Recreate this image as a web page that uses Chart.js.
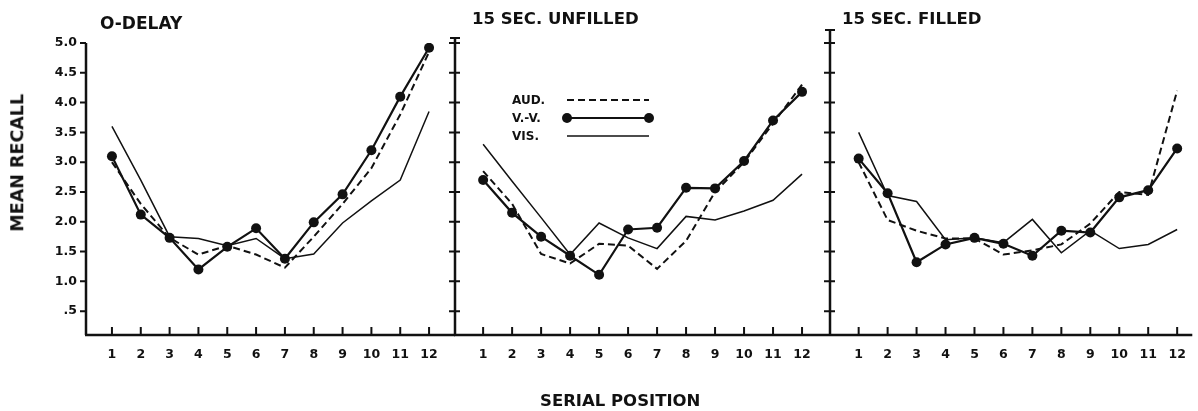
<!DOCTYPE html>
<html>
<head>
<meta charset="utf-8">
<script src="https://cdn.jsdelivr.net/npm/chart.js@4.4.1/dist/chart.umd.min.js"></script>
<style>
  body { margin: 0; background: #fff; width: 1198px; height: 411px; position: relative; overflow: hidden;
         font-family: "DejaVu Sans", sans-serif; font-weight: bold; color: #111; }
  canvas { position: absolute; left: 0; top: 0; }
  .lbl { position: absolute; white-space: nowrap; font-size: 16.5px; line-height: 1; }
</style>
</head>
<body>
<canvas id="c1" width="1198" height="411"></canvas>
<canvas id="c2" width="1198" height="411"></canvas>
<canvas id="c3" width="1198" height="411"></canvas>

<div class="lbl" style="left:100px; top:15px; font-size:17px">O-DELAY</div>
<div class="lbl" style="left:472px; top:11px">15 SEC. UNFILLED</div>
<div class="lbl" style="left:842px; top:11px">15 SEC. FILLED</div>
<div class="lbl" style="left:-82px; top:154px; width:200px; text-align:center; font-size:17.5px; transform:rotate(-90deg)">MEAN RECALL</div>
<div class="lbl" style="left:540px; top:393px">SERIAL POSITION</div>

<script>
// serial positions and y ticks
const positions = [1, 2, 3, 4, 5, 6, 7, 8, 9, 10, 11, 12];
const recallTicks = [0.5, 1.0, 1.5, 2.0, 2.5, 3.0, 3.5, 4.0, 4.5, 5.0];
const seriesNames = ['AUD.', 'V.-V.', 'VIS.'];

// 0-delay
const audDelay0 = [3.0, 2.3, 1.73, 1.45, 1.6, 1.45, 1.23, 1.75, 2.3, 2.9, 3.8, 4.85];
const vvDelay0  = [3.1, 2.12, 1.73, 1.2, 1.58, 1.89, 1.38, 1.99, 2.46, 3.2, 4.1, 4.92];
const visDelay0 = [3.6, 2.7, 1.75, 1.72, 1.6, 1.72, 1.38, 1.46, 1.98, 2.35, 2.7, 3.85];

// 15 sec. unfilled
const audUnfilled = [2.85, 2.3, 1.46, 1.3, 1.63, 1.6, 1.21, 1.68, 2.5, 3.0, 3.65, 4.3];
const vvUnfilled  = [2.7, 2.15, 1.75, 1.43, 1.11, 1.87, 1.9, 2.57, 2.56, 3.02, 3.7, 4.18];
const visUnfilled = [3.3, 2.68, 2.07, 1.45, 1.98, 1.73, 1.55, 2.09, 2.03, 2.18, 2.36, 2.8];

// 15 sec. filled
const audFilled = [3.0, 2.03, 1.85, 1.72, 1.72, 1.45, 1.52, 1.62, 1.97, 2.5, 2.45, 4.2];
const vvFilled  = [3.06, 2.48, 1.32, 1.62, 1.73, 1.63, 1.43, 1.85, 1.82, 2.41, 2.53, 3.23];
const visFilled = [3.5, 2.44, 2.34, 1.7, 1.73, 1.65, 2.04, 1.48, 1.85, 1.55, 1.62, 1.87];

const INK = '#111';
Chart.defaults.font.family = '"DejaVu Sans", sans-serif';
Chart.defaults.font.weight = 'bold';
Chart.defaults.color = INK;

// where each panel sits on the page
const panels = [
  { id: 'c1', left: 86, right: 455, xMin: 0.1, xMax: 12.9, labels: true, top: 43, tail: 0, series: [audDelay0, vvDelay0, visDelay0] },
  { id: 'c2', left: 455, right: 829, xMin: 0.03, xMax: 12.93, labels: false, top: 38, tail: 0, series: [audUnfilled, vvUnfilled, visUnfilled] },
  { id: 'c3', left: 830, right: 1198, xMin: 0.01, xMax: 12.35, labels: false, top: 30, tail: 5, series: [audFilled, vvFilled, visFilled] }
];

const AREA_TOP = 43, AREA_BOTTOM = 335, X_H = 30;

// draws the axis lines and the tick marks (x ticks point up into the plot)
function axesPlugin(p) {
  return {
    id: 'axes',
    beforeDatasetsDraw(chart) {
      const { ctx, chartArea: a, scales: { x, y } } = chart;
      ctx.save();
      ctx.strokeStyle = INK;
      ctx.lineWidth = 2.5;
      ctx.beginPath();
      ctx.moveTo(a.left - 1, a.bottom);
      ctx.lineTo(a.right + p.tail, a.bottom);
      ctx.moveTo(a.left, p.top);
      ctx.lineTo(a.left, a.bottom);
      ctx.stroke();

      ctx.lineWidth = 2;
      ctx.beginPath();
      positions.forEach(v => {
        const px = x.getPixelForValue(v);
        ctx.moveTo(px, a.bottom);
        ctx.lineTo(px, a.bottom - 8);
      });
      recallTicks.forEach(v => {
        const py = y.getPixelForValue(v);
        ctx.moveTo(a.left - 6, py);
        ctx.lineTo(a.left + (p.labels ? 0 : 5), py);
      });
      if (!p.labels) {
        ctx.moveTo(a.left - 5, p.top);
        ctx.lineTo(a.left + 5, p.top);
      }
      ctx.stroke();
      ctx.restore();
    }
  };
}

// legend block inside the middle panel
const legendPlugin = {
  id: 'legendBlock',
  afterDatasetsDraw(chart) {
    const { ctx, chartArea: a } = chart;
    ctx.save();
    ctx.font = 'bold 12px "DejaVu Sans", sans-serif';
    ctx.fillStyle = INK;
    ctx.strokeStyle = INK;
    ctx.textBaseline = 'middle';
    chart.data.datasets.forEach((ds, i) => {
      const yy = 100 + i * 18;
      ctx.fillText(ds.label, a.left + 57, yy + 1);
      ctx.lineWidth = ds.borderWidth;
      ctx.setLineDash(ds.borderDash || []);
      ctx.beginPath();
      ctx.moveTo(a.left + 112, yy);
      ctx.lineTo(a.left + 194, yy);
      ctx.stroke();
      ctx.setLineDash([]);
      if (ds.pointRadius > 0) {
        [a.left + 112, a.left + 194].forEach(px => {
          ctx.beginPath();
          ctx.arc(px, yy, ds.pointRadius, 0, Math.PI * 2);
          ctx.fill();
        });
      }
    });
    ctx.restore();
  }
};

function makeChart(p) {
  const yW = p.labels ? 40 : 0;
  const styles = [
    { borderWidth: 2, borderDash: [7, 4], pointRadius: 0 },
    { borderWidth: 2.2, pointRadius: 5 },
    { borderWidth: 1.5, pointRadius: 0 }
  ];
  const datasets = p.series.map((vals, i) => Object.assign({
    label: seriesNames[i],
    data: positions.map((x, j) => ({ x: x, y: vals[j] })),
    borderColor: INK,
    backgroundColor: INK,
    pointBackgroundColor: INK,
    pointBorderWidth: 0,
    tension: 0,
    fill: false
  }, styles[i]));

  return new Chart(document.getElementById(p.id), {
    type: 'line',
    data: { datasets: datasets },
    options: {
      responsive: false,
      animation: false,
      events: [],
      layout: { padding: { left: p.left - yW, right: 1198 - p.right, top: AREA_TOP, bottom: 411 - AREA_BOTTOM - X_H } },
      plugins: { legend: { display: false }, tooltip: { enabled: false } },
      scales: {
        x: {
          type: 'linear', min: p.xMin, max: p.xMax,
          grid: { display: false, drawTicks: false },
          border: { display: false },
          afterBuildTicks: s => { s.ticks = positions.map(v => ({ value: v })); },
          afterFit: s => { s.height = X_H; },
          ticks: { padding: 12, autoSkip: false, maxRotation: 0, font: { size: 12.5, weight: 'bold' }, color: INK }
        },
        y: {
          min: 0.1, max: 5,
          grid: { display: false, drawTicks: false },
          border: { display: false },
          afterBuildTicks: s => { s.ticks = recallTicks.map(v => ({ value: v })); },
          afterFit: s => { s.width = yW; },
          ticks: {
            display: p.labels, padding: 9, font: { size: 12.5, weight: 'bold' }, color: INK,
            callback: v => v === 0.5 ? '.5' : v.toFixed(1)
          }
        }
      }
    },
    plugins: p.id === 'c2' ? [axesPlugin(p), legendPlugin] : [axesPlugin(p)]
  });
}

panels.forEach(makeChart);
</script>
</body>
</html>
